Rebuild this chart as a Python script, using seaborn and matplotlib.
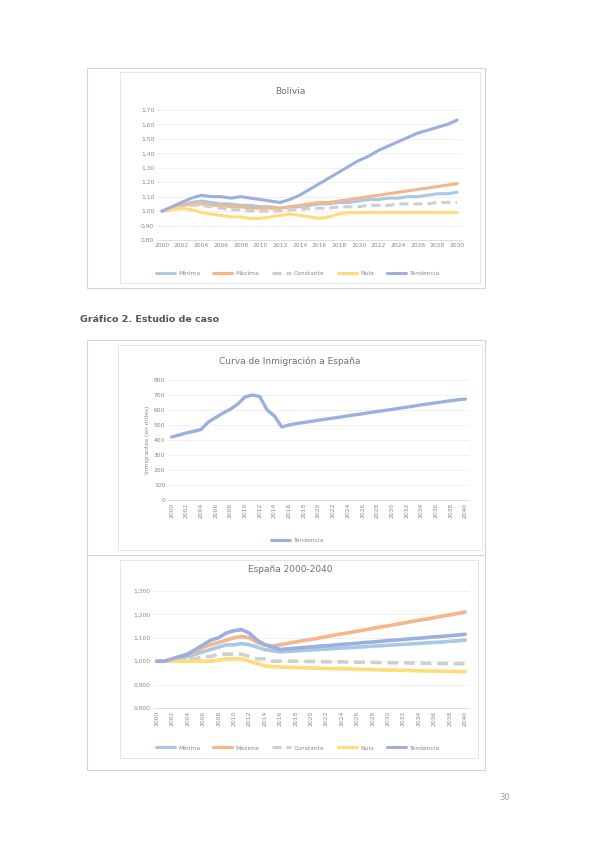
import numpy as np
import pandas as pd
import seaborn as sns
import matplotlib.pyplot as plt
from matplotlib.patches import Rectangle
from matplotlib.lines import Line2D

# ----------------------------
# Datos
# ----------------------------
escenarios = ["Mínima", "Máxima", "Constante", "Nula", "Tendencia"]
colores = ["#a8c8e6", "#f4b68a", "#cfcfcf", "#ffdc78", "#9cafdf"]

# Bolivia, índice (2000 = 1)
anios_bol = list(range(2000, 2031))
bol_minima = [1.00, 1.02, 1.04, 1.06, 1.07, 1.06, 1.05, 1.05, 1.04, 1.04, 1.03, 1.03, 1.02, 1.03, 1.03, 1.04,
              1.05, 1.05, 1.06, 1.06, 1.07, 1.08, 1.08, 1.09, 1.09, 1.10, 1.10, 1.11, 1.12, 1.12, 1.13]
bol_maxima = [1.00, 1.02, 1.04, 1.05, 1.05, 1.04, 1.04, 1.03, 1.03, 1.02, 1.02, 1.02, 1.02, 1.03, 1.04, 1.05,
              1.06, 1.06, 1.07, 1.08, 1.09, 1.10, 1.11, 1.12, 1.13, 1.14, 1.15, 1.16, 1.17, 1.18, 1.19]
bol_constante = [1.00, 1.01, 1.03, 1.04, 1.04, 1.03, 1.02, 1.01, 1.01, 1.00, 1.00, 1.00, 1.00, 1.01, 1.01, 1.02,
                 1.02, 1.02, 1.03, 1.03, 1.03, 1.04, 1.04, 1.04, 1.05, 1.05, 1.05, 1.05, 1.06, 1.06, 1.06]
bol_nula = [1.00, 1.01, 1.02, 1.01, 0.99, 0.98, 0.97, 0.96, 0.96, 0.95, 0.95, 0.96, 0.97, 0.98, 0.97, 0.96,
            0.95, 0.96, 0.98, 0.99, 0.99, 0.99, 0.99, 0.99, 0.99, 0.99, 0.99, 0.99, 0.99, 0.99, 0.99]
bol_tendencia = [1.00, 1.03, 1.06, 1.09, 1.11, 1.10, 1.10, 1.09, 1.10, 1.09, 1.08, 1.07, 1.06, 1.08, 1.11, 1.15,
                 1.19, 1.23, 1.27, 1.31, 1.35, 1.38, 1.42, 1.45, 1.48, 1.51, 1.54, 1.56, 1.58, 1.60, 1.63]

# España: inmigración (miles) y escenarios (índice)
anios_esp = list(range(2000, 2041))
inmigracion = [420, 433, 447, 458, 470, 520, 550, 580, 605, 640, 687, 700, 690, 600, 560, 487, 500, 510, 517,
               524, 532, 539, 546, 553, 561, 568, 575, 583, 590, 597, 604, 612, 619, 626, 634, 641, 648, 655,
               662, 668, 673]
esp_minima = [1.00, 1.00, 1.00, 1.01, 1.02, 1.03, 1.04, 1.05, 1.06, 1.07, 1.07, 1.075, 1.07, 1.06, 1.05, 1.045,
              1.04, 1.042, 1.044, 1.046, 1.048, 1.050, 1.052, 1.054, 1.056, 1.058, 1.060, 1.062, 1.064, 1.066,
              1.068, 1.070, 1.072, 1.074, 1.076, 1.078, 1.080, 1.082, 1.085, 1.087, 1.090]
esp_maxima = [1.00, 1.00, 1.01, 1.02, 1.03, 1.04, 1.06, 1.07, 1.08, 1.09, 1.10, 1.105, 1.10, 1.08, 1.07, 1.065,
              1.07, 1.076, 1.082, 1.088, 1.093, 1.099, 1.105, 1.111, 1.117, 1.122, 1.128, 1.134, 1.140, 1.146,
              1.151, 1.157, 1.163, 1.169, 1.175, 1.180, 1.186, 1.192, 1.198, 1.204, 1.210]
esp_constante = [1.00, 1.00, 1.00, 1.00, 1.01, 1.01, 1.02, 1.02, 1.03, 1.03, 1.03, 1.03, 1.02, 1.01, 1.01, 1.00,
                 1.00, 1.000, 1.000, 0.999, 0.999, 0.998, 0.998, 0.997, 0.997, 0.996, 0.996, 0.995, 0.995, 0.994,
                 0.994, 0.993, 0.993, 0.992, 0.992, 0.991, 0.991, 0.990, 0.990, 0.989, 0.989]
esp_nula = [1.00, 1.00, 1.00, 1.00, 1.00, 1.00, 1.00, 1.00, 1.005, 1.01, 1.01, 1.01, 1.00, 0.99, 0.98, 0.977,
            0.975, 0.974, 0.973, 0.972, 0.971, 0.970, 0.969, 0.968, 0.968, 0.967, 0.966, 0.965, 0.964, 0.963,
            0.962, 0.962, 0.961, 0.960, 0.959, 0.958, 0.958, 0.957, 0.956, 0.956, 0.955]
esp_tendencia = [1.00, 1.00, 1.01, 1.02, 1.03, 1.05, 1.07, 1.09, 1.10, 1.12, 1.13, 1.135, 1.12, 1.09, 1.07, 1.06,
                 1.05, 1.053, 1.056, 1.058, 1.061, 1.064, 1.066, 1.069, 1.072, 1.074, 1.077, 1.080, 1.082, 1.085,
                 1.088, 1.090, 1.093, 1.096, 1.098, 1.101, 1.104, 1.106, 1.109, 1.112, 1.115]

bolivia = pd.DataFrame({"Año": anios_bol, "Mínima": bol_minima, "Máxima": bol_maxima,
                        "Constante": bol_constante, "Nula": bol_nula, "Tendencia": bol_tendencia})
espana = pd.DataFrame({"Año": anios_esp, "Mínima": esp_minima, "Máxima": esp_maxima,
                       "Constante": esp_constante, "Nula": esp_nula, "Tendencia": esp_tendencia})
bolivia_l = bolivia.melt(id_vars="Año", var_name="Escenario", value_name="Valor")
espana_l = espana.melt(id_vars="Año", var_name="Escenario", value_name="Valor")
curva = pd.DataFrame({"Año": anios_esp, "Tendencia": inmigracion})

# ----------------------------
# Figura
# ----------------------------
sns.set_theme(style="white")
plt.rcParams["font.family"] = ["DejaVu Sans"]

W, H = 595, 842
GRIS = "#8a8a8a"
paleta = dict(zip(escenarios, colores))
guiones = {e: (3, 1.6) if e == "Constante" else "" for e in escenarios}


def caja(x0, y0, x1, y1):
    # pixeles -> fraccion de figura
    return [x0 / W, 1 - y1 / H, (x1 - x0) / W, (y1 - y0) / H]


def marco(x0, y0, x1, y1, color="#d4d4d4", lw=0.8):
    fig.add_artist(Rectangle((x0 / W, 1 - y1 / H), (x1 - x0) / W, (y1 - y0) / H,
                             transform=fig.transFigure, fill=False, edgecolor=color, lw=lw))


def estilo(ax):
    for s in ["left", "top", "right"]:
        ax.spines[s].set_visible(False)
    ax.spines["bottom"].set_color("#d9d9d9")
    ax.spines["bottom"].set_linewidth(0.6)
    ax.grid(axis="y", color="#ececec", lw=0.5)
    ax.tick_params(axis="both", length=0, labelsize=4.3, labelcolor=GRIS, pad=2)
    ax.set_xlabel("")
    ax.set_ylabel("")


def leyenda(y, nombres, x=0.5):
    handles = [Line2D([], [], color=paleta[n], lw=2.2,
                      ls=(0, (3, 1.6)) if n == "Constante" else "-") for n in nombres]
    fig.legend(handles, nombres, loc="center", bbox_to_anchor=(x, 1 - y / H), ncol=len(nombres),
               frameon=False, fontsize=4.3, labelcolor=GRIS, handlelength=3.2,
               columnspacing=2.2, handletextpad=0.5)


fig = plt.figure(figsize=(W / 100, H / 100), dpi=100)

# marcos (tabla del documento)
marco(87, 68, 485, 288)
marco(120, 72, 480, 283, color="#e0e0e0", lw=0.6)
marco(87, 340, 485, 770)
fig.add_artist(Line2D([87 / W, 485 / W], [1 - 555 / H] * 2, transform=fig.transFigure,
                      color="#d4d4d4", lw=0.8))
marco(118, 345, 482, 550, color="#e0e0e0", lw=0.6)
marco(120, 560, 478, 758, color="#e0e0e0", lw=0.6)

# --- Bolivia
ax1 = fig.add_axes(caja(157, 110, 462, 240))
sns.lineplot(data=bolivia_l, x="Año", y="Valor", hue="Escenario", style="Escenario",
             palette=paleta, dashes=guiones, hue_order=escenarios, lw=2.2, legend=False, ax=ax1)
ax1.set_xlim(1999.5, 2030.5)
ax1.set_ylim(0.8, 1.7)
ax1.set_yticks(np.arange(0.8, 1.71, 0.1))
ax1.set_yticklabels([f"{v:.2f}".replace(".", ",") for v in np.arange(0.8, 1.71, 0.1)])
ax1.set_xticks(anios_bol[::2])
ax1.set_xticklabels([str(a) for a in anios_bol[::2]], fontsize=3.9)
estilo(ax1)
fig.text(290 / W, 1 - 91 / H, "Bolivia", ha="center", va="center", fontsize=6.5, color="#707070")
leyenda(273, escenarios)

fig.text(80 / W, 1 - 320 / H, "Gráfico 2. Estudio de caso", ha="left", va="center",
         fontsize=6.8, fontweight="bold", color="#555555")

# --- Curva de inmigración
ax2 = fig.add_axes(caja(168, 380, 469, 500))
sns.lineplot(data=curva, x="Año", y="Tendencia", color=paleta["Tendencia"], lw=2.4, ax=ax2)
ax2.set_xlim(1999.5, 2040.5)
ax2.set_ylim(0, 800)
ax2.set_yticks(range(0, 801, 100))
ax2.set_xticks(anios_esp[::2])
ax2.set_xticklabels([str(a) for a in anios_esp[::2]], rotation=90)
estilo(ax2)
ax2.set_ylabel("Inmigrantes (en miles)", fontsize=4.3, color=GRIS, labelpad=3)
fig.text(290 / W, 1 - 361 / H, "Curva de Inmigración a España", ha="center", va="center",
         fontsize=6.5, color="#707070")
leyenda(540, ["Tendencia"])

# --- España escenarios
ax3 = fig.add_axes(caja(153, 591, 469, 708))
sns.lineplot(data=espana_l, x="Año", y="Valor", hue="Escenario", style="Escenario",
             palette=paleta, dashes=guiones, hue_order=escenarios, lw=2.6, legend=False, ax=ax3)
ax3.set_xlim(1999.5, 2040.5)
ax3.set_ylim(0.8, 1.3)
ax3.set_yticks(np.arange(0.8, 1.31, 0.1))
ax3.set_yticklabels([f"{v:.3f}".replace(".", ",") for v in np.arange(0.8, 1.31, 0.1)])
ax3.set_xticks(anios_esp[::2])
ax3.set_xticklabels([str(a) for a in anios_esp[::2]], rotation=90)
estilo(ax3)
fig.text(290 / W, 1 - 570 / H, "España 2000-2040", ha="center", va="center",
         fontsize=6.5, color="#707070")
leyenda(748, escenarios)

fig.text(505 / W, 1 - 797 / H, "30", ha="center", va="center", fontsize=6, color="#9a9a9a")

fig.savefig("out.png", dpi=100, facecolor="white")
